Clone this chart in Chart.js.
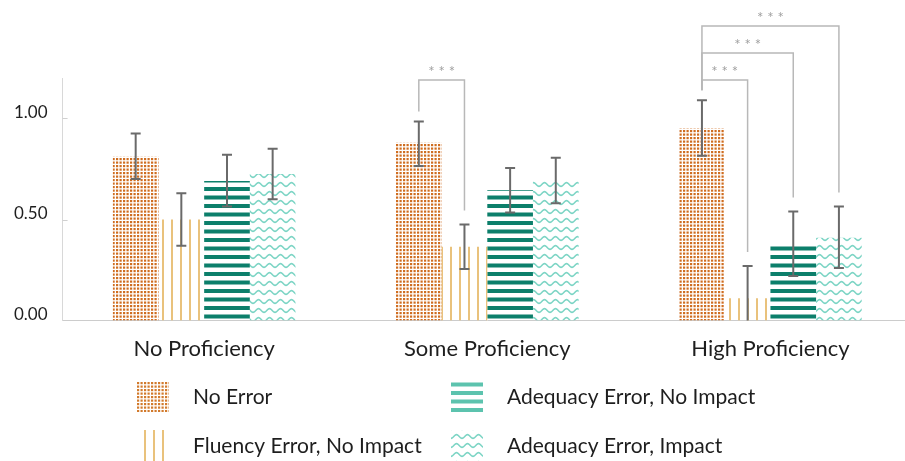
<!DOCTYPE html>
<html>
<head>
<meta charset="utf-8">
<script src="https://cdn.jsdelivr.net/npm/chart.js@4.4.1/dist/chart.umd.min.js"></script>
<style>
  html, body { margin: 0; padding: 0; background: #ffffff; overflow: hidden; }
  #wrap { width: 912px; height: 461px; position: relative; }
</style>
</head>
<body>
<div id="wrap"><canvas id="chart" width="912" height="461"></canvas></div>
<script>
// ---- data ----
const categories = ['No Proficiency', 'Some Proficiency', 'High Proficiency'];
const seriesNames = ['No Error', 'Fluency Error, No Impact', 'Adequacy Error, No Impact', 'Adequacy Error, Impact'];

const noError          = [0.81, 0.88, 0.95];
const fluencyNoImpact  = [0.50, 0.365, 0.11];
const adequacyNoImpact = [0.69, 0.645, 0.38];
const adequacyImpact   = [0.725, 0.69, 0.41];

// error bar bounds per category: [low, high]
const noErrorCI          = [[0.70, 0.925], [0.765, 0.985], [0.815, 1.09]];
const fluencyNoImpactCI  = [[0.37, 0.63], [0.255, 0.475], [-0.05, 0.27]];
const adequacyNoImpactCI = [[0.565, 0.82], [0.535, 0.755], [0.22, 0.54]];
const adequacyImpactCI   = [[0.60, 0.85], [0.58, 0.805], [0.26, 0.565]];

const yTickValues = [0, 0.5, 1.0];

// significance brackets: category index, the two series compared, stacking level
const brackets = [
  { category: 1, from: 0, to: 1, level: 0, label: '***' },
  { category: 2, from: 0, to: 1, level: 0, label: '***' },
  { category: 2, from: 0, to: 2, level: 1, label: '***' },
  { category: 2, from: 0, to: 3, level: 2, label: '***' }
];

const seriesValues = [noError, fluencyNoImpact, adequacyNoImpact, adequacyImpact];
const seriesCI = [noErrorCI, fluencyNoImpactCI, adequacyNoImpactCI, adequacyImpactCI];

// ---- fill patterns ----
const FONT = 'Lato, "Open Sans", sans-serif';

function makeTile(w, h, paint) {
  const c = document.createElement('canvas');
  c.width = w; c.height = h;
  const g = c.getContext('2d');
  paint(g, w, h);
  return document.createElement('canvas').getContext('2d').createPattern(c, 'repeat');
}

function dotPattern(color) {
  return makeTile(7, 7, (g) => {
    g.fillStyle = color;
    g.fillRect(0.5, 0.5, 2.2, 2.2);
    g.fillRect(4, 0.5, 2.2, 2.2);
    g.fillRect(0.5, 4, 2.2, 2.2);
    g.fillRect(4, 4, 2.2, 2.2);
  });
}
function vlinePattern(color) {
  return makeTile(9, 9, (g) => {
    g.fillStyle = color;
    g.fillRect(0, 0, 2, 9);
  });
}
function hstripePattern(color) {
  return makeTile(4, 17, (g) => {
    g.fillStyle = color;
    g.fillRect(0, 0, 4, 4);
    g.fillRect(0, 8.5, 4, 4);
  });
}
function wavePattern(color) {
  return makeTile(11, 9, (g) => {
    g.strokeStyle = color;
    g.lineWidth = 1.6;
    g.beginPath();
    for (let x = -1; x <= 12; x += 0.5) {
      const y = 4.5 + 1.9 * Math.cos((x / 11) * Math.PI * 2);
      if (x === -1) g.moveTo(x, y); else g.lineTo(x, y);
    }
    g.stroke();
  });
}

const seriesColors = ['#cf6d20', '#e9c27c', '#0c7f6b', '#7dd5c5'];
const legendColors = ['#d27a2c', '#e9c27c', '#5cc3ae', '#7dd5c5'];
const patternMakers = [dotPattern, vlinePattern, hstripePattern, wavePattern];

const datasets = seriesNames.map((name, i) => ({
  label: name,
  data: seriesValues[i],
  backgroundColor: patternMakers[i](seriesColors[i]),
  borderWidth: 0,
  categoryPercentage: 0.645,
  barPercentage: 1.0
}));

// ---- plugins ----
const errorBarPlugin = {
  id: 'errorBars',
  afterDatasetsDraw(chart) {
    const { ctx, chartArea } = chart;
    const y = chart.scales.y;
    ctx.save();
    ctx.beginPath();
    ctx.rect(chartArea.left, 0, chartArea.right - chartArea.left, chartArea.bottom);
    ctx.clip();
    ctx.strokeStyle = '#6a6a6a';
    ctx.lineWidth = 2;
    seriesCI.forEach((ci, s) => {
      const meta = chart.getDatasetMeta(s);
      ci.forEach((pair, c) => {
        const x = meta.data[c].x;
        const yl = y.getPixelForValue(pair[0]);
        const yh = y.getPixelForValue(pair[1]);
        ctx.beginPath();
        ctx.moveTo(x, yl); ctx.lineTo(x, yh);
        ctx.moveTo(x - 5, yh); ctx.lineTo(x + 5, yh);
        ctx.moveTo(x - 5, yl); ctx.lineTo(x + 5, yl);
        ctx.stroke();
      });
    });
    ctx.restore();
  }
};

const bracketPlugin = {
  id: 'brackets',
  afterDatasetsDraw(chart) {
    const { ctx, chartArea } = chart;
    const y = chart.scales.y;
    ctx.save();
    ctx.strokeStyle = '#b8b8b8';
    ctx.lineWidth = 1.5;
    ctx.fillStyle = '#a0a0a0';
    ctx.font = '15px ' + FONT;
    ctx.textAlign = 'center';
    ctx.textBaseline = 'middle';
    brackets.forEach((b) => {
      const xa = chart.getDatasetMeta(b.from).data[b.category].x;
      const xb = chart.getDatasetMeta(b.to).data[b.category].x;
      const top = chartArea.top + 2 - b.level * 27;
      const ya = y.getPixelForValue(seriesCI[b.from][b.category][1]) - 10;
      const yb = y.getPixelForValue(seriesCI[b.to][b.category][1]) - 14;
      ctx.beginPath();
      ctx.moveTo(xa, ya);
      ctx.lineTo(xa, top);
      ctx.lineTo(xb, top);
      ctx.lineTo(xb, yb);
      ctx.stroke();
      ctx.fillText(b.label.split('').join(' '), (xa + xb) / 2, top - 8);
    });
    ctx.restore();
  }
};

const innerTickPlugin = {
  id: 'innerTicks',
  afterDraw(chart) {
    const { ctx, chartArea } = chart;
    const y = chart.scales.y;
    ctx.save();
    ctx.strokeStyle = '#d0d0d0';
    ctx.lineWidth = 1;
    yTickValues.forEach((v) => {
      if (v === 0) return;
      const py = Math.round(y.getPixelForValue(v)) + 0.5;
      ctx.beginPath();
      ctx.moveTo(chartArea.left, py);
      ctx.lineTo(chartArea.left + 5, py);
      ctx.stroke();
    });
    ctx.restore();
  }
};

const legendPlugin = {
  id: 'gridLegend',
  afterDraw(chart) {
    const { ctx } = chart;
    const cols = [137, 451];
    const rows = [381, 430];
    const order = [[0, 1], [2, 3]]; // column-major placement
    ctx.save();
    ctx.font = '21px ' + FONT;
    ctx.textBaseline = 'middle';
    ctx.textAlign = 'left';
    order.forEach((col, ci) => {
      col.forEach((s, ri) => {
        const x = cols[ci], yTop = rows[ri];
        ctx.fillStyle = patternMakers[s](legendColors[s]);
        ctx.fillRect(x, yTop, 32, 31);
        ctx.fillStyle = '#1e1e1e';
        ctx.fillText(seriesNames[s], x + 56, yTop + 16);
      });
    });
    ctx.restore();
  }
};

// ---- chart ----
new Chart(document.getElementById('chart'), {
  type: 'bar',
  data: { labels: categories, datasets },
  options: {
    responsive: false,
    animation: false,
    layout: { padding: { left: -1, top: 78, right: 0, bottom: 84 } },
    plugins: { legend: { display: false }, tooltip: { enabled: false } },
    scales: {
      x: {
        grid: { display: false, drawTicks: false },
        border: { display: true, color: '#cccccc', width: 1 },
        ticks: { color: '#1e1e1e', font: { family: FONT, size: 22 }, padding: 15 }
      },
      y: {
        min: 0,
        max: 1.2,
        afterBuildTicks(scale) { scale.ticks = yTickValues.map((v) => ({ value: v })); },
        grid: { display: false, drawTicks: false },
        border: { display: true, color: '#d8d8d8', width: 1 },
        ticks: {
          color: '#1e1e1e',
          font: { family: FONT, size: 17 },
          padding: 15,
          labelOffset: -6,
          callback: (v) => Number(v).toFixed(2)
        }
      }
    }
  },
  plugins: [errorBarPlugin, bracketPlugin, innerTickPlugin, legendPlugin]
});
</script>
</body>
</html>
